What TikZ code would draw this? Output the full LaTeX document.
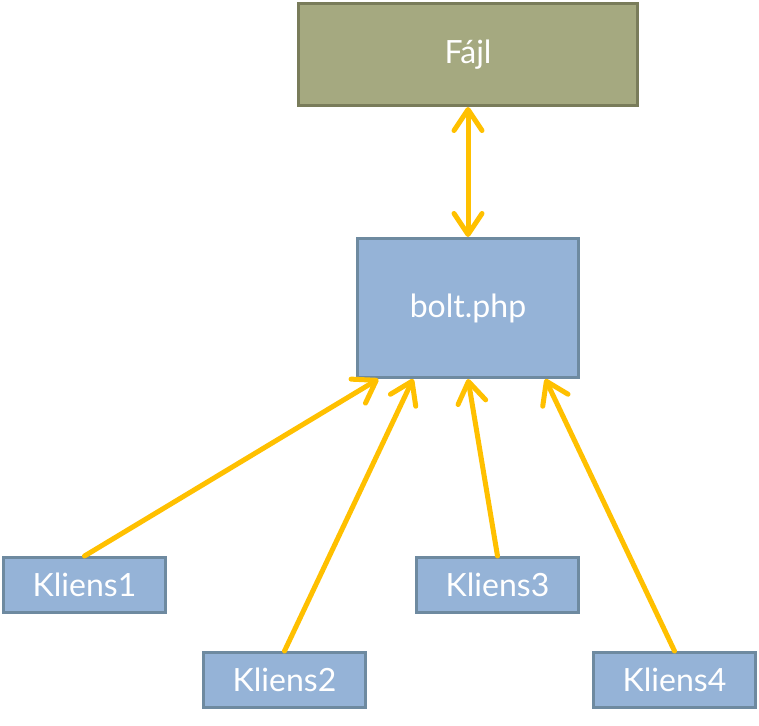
\documentclass[tikz,border=0pt]{standalone}
\usepackage{fontspec}
\setmainfont{Lato}
\usetikzlibrary{arrows.meta,calc}

\definecolor{kekfill}{HTML}{95B3D7}
\definecolor{kekline}{HTML}{6E8AA0}
\definecolor{olivfill}{HTML}{A5A980}
\definecolor{olivline}{HTML}{797C5A}
\definecolor{narancs}{HTML}{FFC000}

\tikzset{
  doboz/.style={draw=kekline,fill=kekfill,line width=3pt,text=white,
    font=\fontsize{32}{38}\selectfont},
  kliens/.style={doboz,minimum width=162pt,minimum height=55pt},
  nyil/.style={draw=narancs,line width=5pt,line cap=round,
    -{Straight Barb[round,length=21pt,width=28pt]}}
}

\begin{document}
\begin{tikzpicture}[x=1pt,y=-1pt]
  \useasboundingbox (0,0) rectangle (759,725);
  % dobozok
  \node[doboz,draw=olivline,fill=olivfill,minimum width=339pt,minimum height=102pt] (fajl) at (468,54.5) {Fájl};
  \node[doboz,minimum width=221pt,minimum height=139pt] (bolt) at (468,308) {bolt.php};
  \node[kliens] (k1) at (84.5,585) {Kliens1};
  \node[kliens] (k2) at (284.5,680) {Kliens2};
  \node[kliens] (k3) at (497.5,585) {Kliens3};
  \node[kliens] (k4) at (674.5,680) {Kliens4};
  % nyilak
  \draw[nyil,{Straight Barb[round,length=21pt,width=28pt]}-{Straight Barb[round,length=21pt,width=28pt]}] (fajl.south) -- (bolt.north);
  \draw[nyil] (k1.north) -- ($(bolt.south west)!0.1!(bolt.south east)$);
  \draw[nyil] (k2.north) -- ($(bolt.south west)!0.255!(bolt.south east)$);
  \draw[nyil] (k3.north) -- ($(bolt.south west)!0.5!(bolt.south east)$);
  \draw[nyil] (k4.north) -- ($(bolt.south west)!0.845!(bolt.south east)$);
\end{tikzpicture}
\end{document}
